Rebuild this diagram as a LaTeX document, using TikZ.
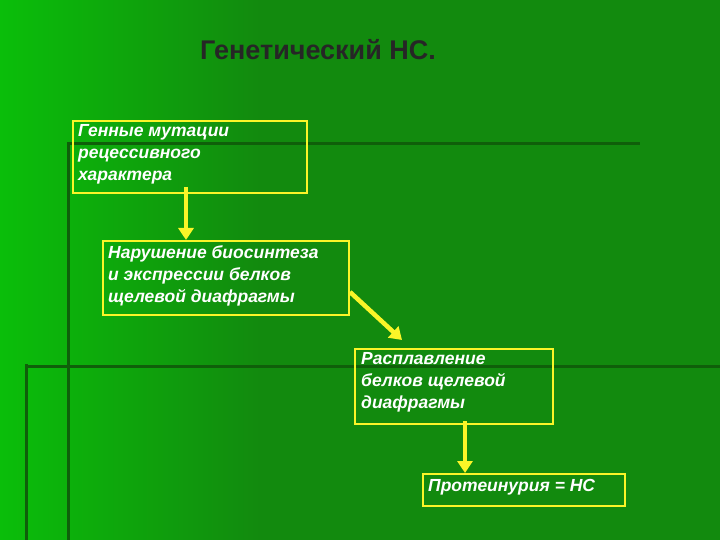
\documentclass[tikz,border=0pt]{standalone}
\usepackage{fontspec}
\setmainfont{Liberation Sans}
\usetikzlibrary{arrows.meta}
\definecolor{bgL}{RGB}{10,190,10}
\definecolor{bgR}{RGB}{18,138,14}
\definecolor{line}{RGB}{15,95,10}
\definecolor{yel}{RGB}{250,245,40}
\tikzset{x=1pt,y=-1pt,
 box/.style={draw=yel,line width=2.2pt,anchor=north west,minimum width=#1,inner sep=0pt},
 txt/.style={anchor=north west,align=left,text=white,inner sep=0pt,
   font=\bfseries\itshape\fontsize{17.5}{22}\selectfont},
 arr/.style={yel,line width=4.5pt,-{Triangle[length=12pt,width=15pt]}}}
\begin{document}
\begin{tikzpicture}
\useasboundingbox (0,0) rectangle (720,540);
\fill[bgR] (0,0) rectangle (720,540);
\shade[left color=bgL,right color=bgR] (0,0) rectangle (260,540);
\draw[line,line width=3pt] (68,142) -- (68,540);
\draw[line,line width=3pt] (68,144) -- (640,144);
\draw[line,line width=3pt] (26,364) -- (26,540);
\draw[line,line width=3pt] (26,366) -- (720,366);
\node[font=\bfseries\fontsize{27}{30}\selectfont,text=black!85] (t) at (318,50) {Генетический НС.};
\node[box=234pt,minimum height=72pt] (a) at (72,120) {};
\node[txt] (at) at (78,124) {Генные мутации\\рецессивного\\характера};
\node[box=246pt,minimum height=74pt] (b) at (102,240) {};
\node[txt] (bt) at (108,245) {Нарушение биосинтеза\\и экспрессии белков\\щелевой диафрагмы};
\node[box=198pt,minimum height=75pt] (c) at (354,348) {};
\node[txt] (ct) at (361,352) {Расплавление\\белков щелевой\\диафрагмы};
\node[box=202pt,minimum height=32pt] (d) at (422,473) {};
\node[txt] (dt) at (428,479) {Протеинурия = НС};
\coordinate (a1) at (186,187);
\draw[arr] (a1) -- (b.north -| a1);
\coordinate (b1) at (350,292);
\coordinate (c1) at (402,340);
\draw[arr] (b1) -- (c1);
\coordinate (c2) at (465,421);
\draw[arr] (c2) -- (d.north -| c2);
\end{tikzpicture}
\end{document}
